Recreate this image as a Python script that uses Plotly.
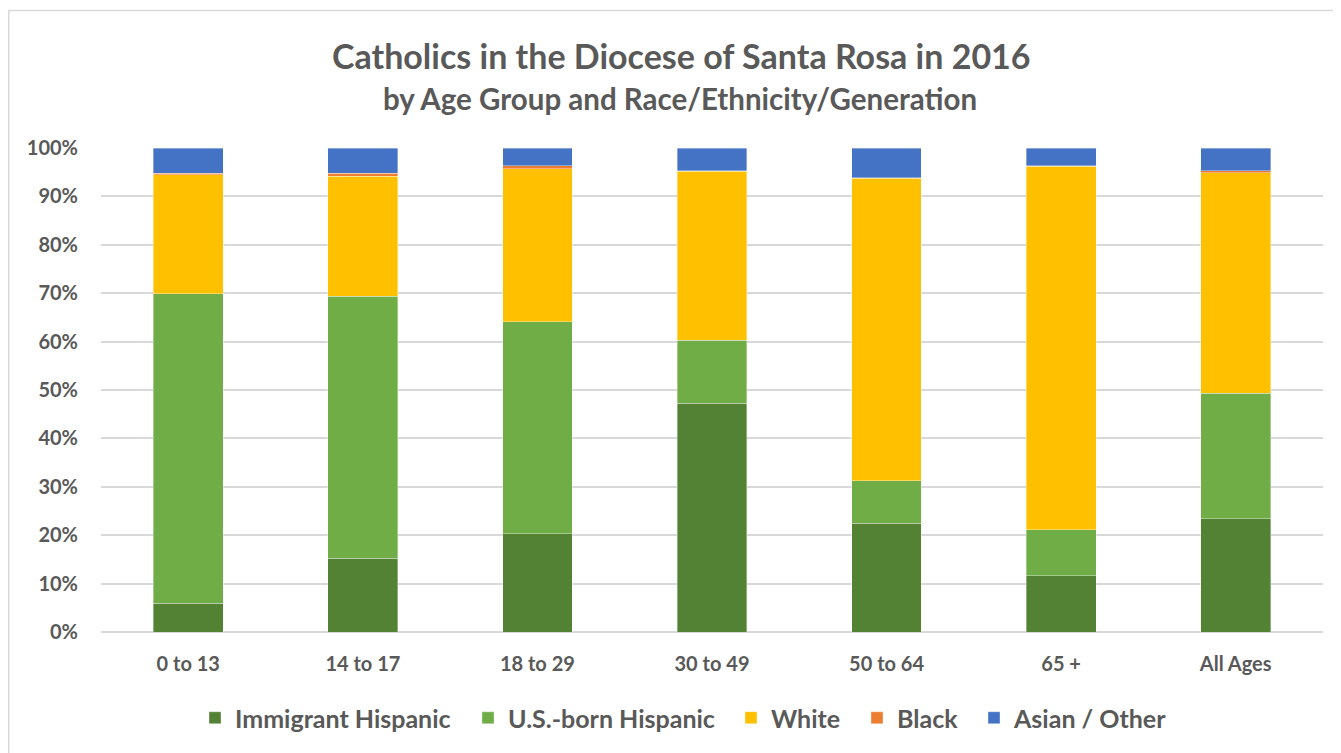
import plotly.graph_objects as go

categories = ["0 to 13", "14 to 17", "18 to 29", "30 to 49", "50 to 64", "65 +", "All Ages"]
immigrant_hispanic = [5.9, 15.2, 20.3, 47.3, 22.5, 11.6, 23.4]
us_born_hispanic = [64.0, 54.2, 43.8, 13.0, 8.8, 9.5, 25.9]
white = [24.6, 24.8, 31.6, 34.9, 62.4, 75.1, 45.6]
black = [0.3, 0.6, 0.6, 0.1, 0.2, 0.1, 0.4]
asian_other = [5.2, 5.2, 3.7, 4.7, 6.1, 3.7, 4.7]
y_ticks = [0, 10, 20, 30, 40, 50, 60, 70, 80, 90, 100]

series = [
    ("Immigrant Hispanic", immigrant_hispanic, "#548235"),
    ("U.S.-born Hispanic", us_born_hispanic, "#70AD47"),
    ("White", white, "#FFC000"),
    ("Black", black, "#ED7D31"),
    ("Asian / Other", asian_other, "#4472C4"),
]

FONT = "Lato, 'Open Sans', sans-serif"
TXT = "#595959"

# page has an 8px body margin; work in page pixels and convert
OFF = 8
W, H = 1333, 745
L, R, T, B = 101 - OFF, 18, 148 - OFF, 121
pw, ph = W - L - R, H - T - B

def px_x(p):
    return (p - OFF - L) / pw

def px_y(p):
    return (H - B - (p - OFF)) / ph

legend_left_px = [195, 468, 731, 857, 974]
legend_ids = ["legend", "legend2", "legend3", "legend4", "legend5"]

fig = go.Figure()
for (name, vals, col), lid in zip(series, legend_ids):
    fig.add_trace(go.Bar(
        x=categories, y=vals, name=name, legend=lid,
        marker=dict(color=col, line=dict(color="rgba(255,255,255,0.6)", width=0.6)),
    ))

legend_layout = {}
for lid, lx in zip(legend_ids, legend_left_px):
    legend_layout[lid] = dict(
        orientation="h", x=px_x(lx), xanchor="left", y=px_y(718), yanchor="middle",
        font=dict(size=25, color=TXT, family=FONT, weight="bold"),
        bgcolor="rgba(0,0,0,0)", borderwidth=0, itemwidth=30,
    )

fig.update_layout(
    width=W, height=H,
    margin=dict(l=L, r=R, t=T, b=B, pad=0),
    paper_bgcolor="white", plot_bgcolor="white",
    barmode="stack", bargap=0.6,
    font=dict(family=FONT, color=TXT),
    showlegend=True,
    xaxis=dict(
        showgrid=False, showline=False, zeroline=False, ticks="",
        tickfont=dict(size=20, color=TXT, family=FONT, weight="bold"),
        ticklabelstandoff=18,
        fixedrange=True,
    ),
    yaxis=dict(
        range=[0, 100], tickvals=y_ticks, ticktext=[f"{v}%" for v in y_ticks],
        showgrid=True, gridcolor="#D9D9D9", gridwidth=1.5,
        zeroline=True, zerolinecolor="#D9D9D9", zerolinewidth=1.5,
        showline=False, ticks="", ticklabelstandoff=22,
        tickfont=dict(size=20, color=TXT, family=FONT, weight="bold"),
        fixedrange=True,
    ),
    annotations=[
        dict(text="Catholics in the Diocese of Santa Rosa in 2016", xref="paper", yref="paper",
             x=px_x(681), y=px_y(55), xanchor="center", yanchor="middle", showarrow=False,
             font=dict(size=34, color=TXT, family=FONT, weight="bold")),
        dict(text="by Age Group and Race/Ethnicity/Generation", xref="paper", yref="paper",
             x=px_x(680), y=px_y(98), xanchor="center", yanchor="middle", showarrow=False,
             font=dict(size=29.5, color=TXT, family=FONT, weight="bold")),
    ],
    shapes=[
        dict(type="line", xref="paper", yref="paper", x0=px_x(8.75), x1=px_x(8.75),
             y0=px_y(10.5), y1=px_y(760), line=dict(color="#D9D9D9", width=1.5)),
        dict(type="line", xref="paper", yref="paper", x0=px_x(8), x1=px_x(1350),
             y0=px_y(10.5), y1=px_y(10.5), line=dict(color="#D9D9D9", width=1.5)),
    ],
    **legend_layout,
)

fig.write_html("out.html")
